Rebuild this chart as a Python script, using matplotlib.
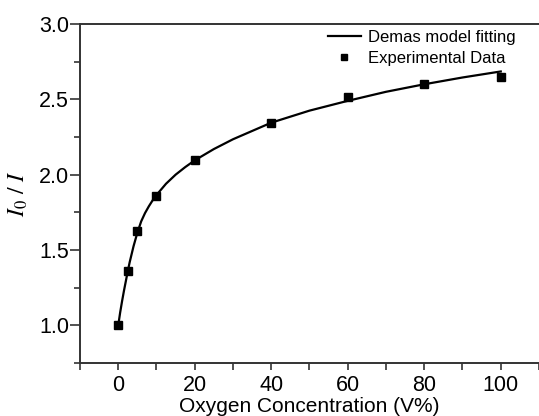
import matplotlib
matplotlib.use('Agg')
import matplotlib.pyplot as plt
from matplotlib.ticker import MultipleLocator

plt.rcParams['font.family'] = ['Liberation Sans', 'DejaVu Sans']
plt.rcParams['mathtext.fontset'] = 'stix'

# measured data
oxygen = [0, 2.5, 5, 10, 20, 40, 60, 80, 100]
ratio = [1.00, 1.36, 1.625, 1.86, 2.095, 2.345, 2.515, 2.605, 2.65]

# fitted Demas curve
fit_x = [0, 0.5, 1, 1.5, 2, 2.5, 3, 4, 5, 6, 7, 8, 9, 10, 12.5, 15, 17.5, 20,
         25, 30, 35, 40, 50, 60, 70, 80, 90, 100]
fit_y = [1.00, 1.085, 1.16, 1.23, 1.295, 1.36, 1.42, 1.525, 1.615, 1.69, 1.745,
         1.79, 1.83, 1.865, 1.94, 2.00, 2.05, 2.095, 2.17, 2.235, 2.29, 2.345,
         2.425, 2.49, 2.55, 2.60, 2.645, 2.685]

fig = plt.figure(figsize=(5.39, 4.16), dpi=100)
ax = fig.add_axes([0.1484, 0.1274, 0.8516, 0.8149])

ax.plot(fit_x, fit_y, color='black', lw=1.6, label='Demas model fitting')
ax.plot(oxygen, ratio, ls='none', marker='s', ms=6, color='black',
        label='Experimental Data')

ax.set_xlim(-10, 110)
ax.set_ylim(0.75, 3.0)
ax.xaxis.set_major_locator(MultipleLocator(20))
ax.xaxis.set_minor_locator(MultipleLocator(10))
ax.yaxis.set_major_locator(MultipleLocator(0.5))
ax.yaxis.set_minor_locator(MultipleLocator(0.25))
ax.set_yticks([1.0, 1.5, 2.0, 2.5, 3.0])

for s in ['left', 'bottom', 'top']:
    ax.spines[s].set_linewidth(1.4)
    ax.spines[s].set_color('#333333')
ax.spines['right'].set_visible(False)

ax.tick_params(axis='both', which='both', direction='out', top=False,
               right=False, width=1.2, color='#333333', labelsize=15.5)
ax.tick_params(axis='y', which='major', length=7, pad=1)
ax.tick_params(axis='y', which='minor', length=4)
ax.tick_params(axis='x', which='both', length=5, pad=3.5)

ax.set_xlabel('Oxygen Concentration (V%)', fontsize=15, labelpad=1)
ax.set_ylabel(r'$I_0\ /\ I$', fontsize=17, labelpad=6)

ax.legend(loc='upper right', frameon=False, fontsize=12, handlelength=2.0,
          handletextpad=0.4, borderaxespad=0.2, labelspacing=0.35,
          markerscale=0.8, bbox_to_anchor=(0.97, 1.012))

fig.savefig('out.png', dpi=100)
